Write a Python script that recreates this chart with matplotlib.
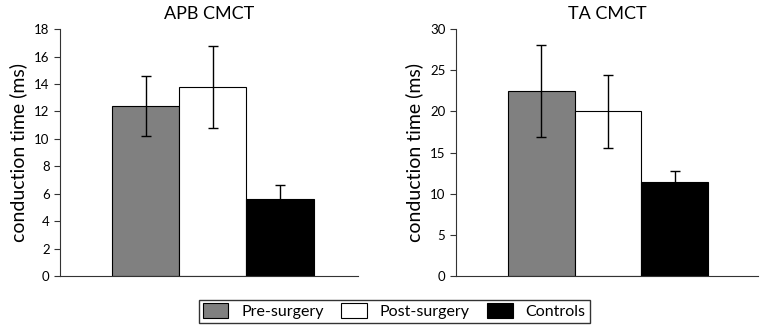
import matplotlib
matplotlib.use("Agg")
import matplotlib.pyplot as plt
from matplotlib.patches import Patch

# 数据
groups = ["Pre-surgery", "Post-surgery", "Controls"]
colors = ["#808080", "#ffffff", "#000000"]

apb_mean = [12.4, 13.8, 5.6]
apb_err = [2.2, 3.0, 1.0]

ta_mean = [22.5, 20.0, 11.4]
ta_err = [5.6, 4.4, 1.4]

titles = ["APB CMCT", "TA CMCT"]
ylims = [18, 30]
ysteps = [2, 5]

plt.rcParams['font.family'] = ['Lato', 'DejaVu Sans']

fig = plt.figure(figsize=(7.61, 3.27), dpi=100)
ax1 = fig.add_axes([0.079, 0.156, 0.392, 0.755])
ax2 = fig.add_axes([0.599, 0.156, 0.397, 0.755])


def draw_panel(ax, means, errs, title, ymax, step, xmax):
    x = list(range(len(means)))
    ax.bar(x, means, width=1.0, color=colors, edgecolor="black", linewidth=0.8, zorder=2)
    # 误差线
    ax.errorbar(x, means, yerr=errs, fmt="none", ecolor="black",
                elinewidth=1.0, capsize=3.5, capthick=1.0, zorder=3)
    ax.set_xlim(-1.28, xmax)
    ax.set_ylim(0, ymax)
    ax.set_yticks(range(0, ymax + 1, step))
    ax.set_xticks([])
    for s in ["top", "right"]:
        ax.spines[s].set_visible(False)
    ax.spines["left"].set_color("#333333")
    ax.spines["bottom"].set_color("#333333")
    ax.tick_params(axis="y", direction="out", length=4, labelsize=9.5, colors="#333333",
                   labelcolor="black")
    ax.set_title(title, fontsize=13, pad=7)
    ax.set_ylabel("conduction time (ms)", fontsize=14, labelpad=5)


draw_panel(ax1, apb_mean, apb_err, titles[0], ylims[0], ysteps[0], 3.17)
draw_panel(ax2, ta_mean, ta_err, titles[1], ylims[1], ysteps[1], 3.25)

handles = [Patch(facecolor=c, edgecolor="black", linewidth=0.8) for c in colors]
leg = fig.legend(handles, groups, loc="center", bbox_to_anchor=(0.518, 0.048), ncol=3,
                 fontsize=11.5, frameon=True, fancybox=False, edgecolor="black",
                 handlelength=1.6, handleheight=1.0, columnspacing=1.1,
                 borderpad=0.25, handletextpad=0.8)
leg.get_frame().set_linewidth(1.0)

fig.savefig("out.png", dpi=100)
